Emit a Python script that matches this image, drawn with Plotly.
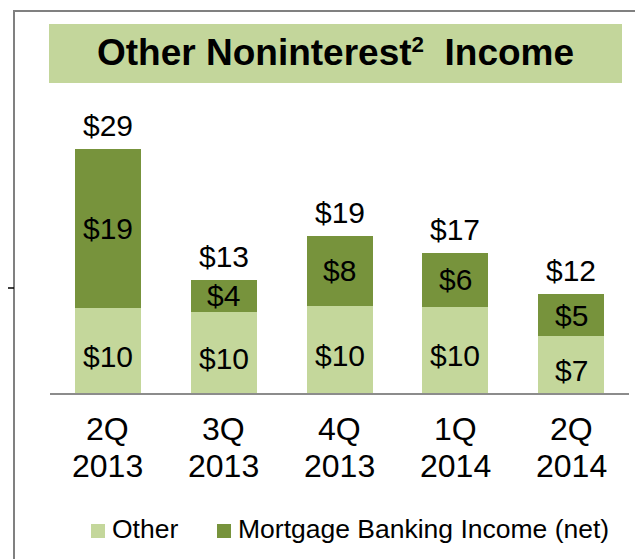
import plotly.graph_objects as go

quarters = ["2Q", "3Q", "4Q", "1Q", "2Q"]
years = ["2013", "2013", "2013", "2014", "2014"]
categories = [f"{q} {y}" for q, y in zip(quarters, years)]
other = [10.1, 9.6, 10.3, 10.2, 6.7]
mortgage = [18.8, 3.8, 8.3, 6.4, 5.0]
totals = [29, 13, 19, 17, 12]
series_names = ["Other", "Mortgage Banking Income (net)"]

C_LIGHT = "#C4D79B"
C_DARK = "#77933C"
FONT = "Liberation Sans, Arial, sans-serif"

OFF = 8  # page body margin around the plot div
W, H = 635, 551
L, R, T, B = 42, 14, 131, 166
PW, PH = W - L - R, H - T - B
PX_PER_UNIT = 8.45


def px(x):
    """page pixel x -> paper"""
    return (x - OFF - L) / PW


def py(y):
    """page pixel y -> paper"""
    return (OFF + H - B - y) / PH


fig = go.Figure()
fig.add_bar(x=categories, y=other, name=series_names[0],
            marker=dict(color=C_LIGHT, line=dict(width=0)))
fig.add_bar(x=categories, y=mortgage, name=series_names[1],
            marker=dict(color=C_DARK, line=dict(width=0)))

ann = []
lab_font = dict(size=30, color="black", family=FONT)
for i, c in enumerate(categories):
    ann.append(dict(x=c, y=other[i] / 2, xref="x", yref="y", text=f"${other[i]:.0f}",
                    showarrow=False, yshift=-6, font=lab_font))
    ann.append(dict(x=c, y=other[i] + mortgage[i] / 2, xref="x", yref="y",
                    text=f"${mortgage[i]:.0f}", showarrow=False, font=lab_font))
    ann.append(dict(x=c, y=other[i] + mortgage[i], xref="x", yref="y", text=f"${totals[i]}",
                    showarrow=False, yanchor="bottom", yshift=5, font=lab_font))
    ann.append(dict(x=c, y=py(429), xref="x", yref="paper", text=quarters[i],
                    showarrow=False, yanchor="middle",
                    font=dict(size=32, color="black", family=FONT)))
    ann.append(dict(x=c, y=py(466), xref="x", yref="paper", text=years[i],
                    showarrow=False, yanchor="middle",
                    font=dict(size=32, color="black", family=FONT)))

# title
ann.append(dict(x=px(335.5), y=py(53), xref="paper", yref="paper",
                text="<b>Other Noninterest<span style='font-size:32px'><sup>2</sup></span>"
                     "\u00a0\u00a0Income</b>",
                showarrow=False, xanchor="center", yanchor="middle",
                font=dict(size=37, color="black", family=FONT)))

# legend (drawn manually)
leg_items = [(series_names[0], C_LIGHT, 91), (series_names[1], C_DARK, 217)]
shapes = []
for name, col, x0 in leg_items:
    shapes.append(dict(type="rect", xref="paper", yref="paper", x0=px(x0), x1=px(x0 + 14),
                       y0=py(538), y1=py(524), fillcolor=col, line=dict(width=0)))
    ann.append(dict(x=px(x0 + 18.5), y=py(529), xref="paper", yref="paper", text=name,
                    showarrow=False, xanchor="left", yanchor="middle",
                    font=dict(size=26.5, color="black", family=FONT)))

shapes += [
    dict(type="rect", xref="paper", yref="paper", x0=px(49), x1=px(622), y0=py(83), y1=py(24),
         fillcolor="#C3D69B", line=dict(width=0), layer="below"),
    dict(type="line", xref="paper", yref="paper", x0=px(13), x1=px(660), y0=py(11), y1=py(11),
         line=dict(color="#808080", width=2)),
    dict(type="line", xref="paper", yref="paper", x0=px(14), x1=px(14), y0=py(10), y1=py(580),
         line=dict(color="#808080", width=2)),
    dict(type="line", xref="paper", yref="paper", x0=px(0), x1=px(14), y0=py(288), y1=py(288),
         line=dict(color="black", width=1.5)),
]

fig.update_layout(
    width=W, height=H, autosize=False,
    margin=dict(l=L, r=R, t=T, b=B, autoexpand=False),
    barmode="stack", bargap=0.43,
    plot_bgcolor="white", paper_bgcolor="white",
    font=dict(family=FONT, color="black"),
    showlegend=False,
    annotations=ann, shapes=shapes,
    xaxis=dict(showline=True, linecolor="#8C8C8C", linewidth=1.5, ticks="",
               showticklabels=False, showgrid=False, range=[-0.5, 4.5], fixedrange=True),
    yaxis=dict(visible=False, range=[0, PH / PX_PER_UNIT], showgrid=False, fixedrange=True),
)

fig.write_html("out.html")
